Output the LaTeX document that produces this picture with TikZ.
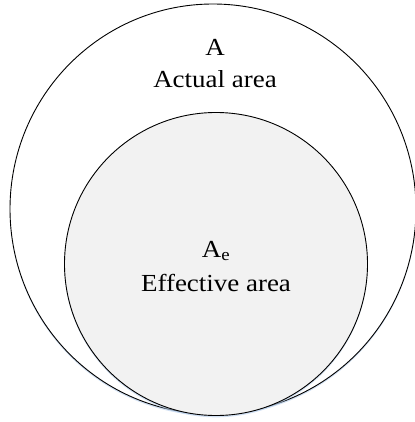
\documentclass[tikz,border=0pt]{standalone}
\usepackage{fontspec}
\setmainfont{Liberation Serif}[FakeStretch=1.1]
\usetikzlibrary{shadows,shapes.geometric}
\begin{document}
\begin{tikzpicture}[x=1pt,y=-1pt,
  ring/.style={draw=black,line width=0.9pt},
  glow/.style={drop shadow={shadow xshift=0pt,shadow yshift=-1.8pt,fill={rgb,255:red,180;green,205;blue,235},opacity=0.6}},
  lbl/.style={font=\fontsize{24.5}{28}\selectfont,inner sep=0pt,anchor=center}]
\useasboundingbox (0,0) rectangle (414,422);
\node[ring,glow,fill=white,ellipse,minimum width=406pt,minimum height=410pt,inner sep=0pt] (outer) at (213,209) {};
\node[ring,glow,circle,fill={rgb,255:red,242;green,242;blue,242},minimum size=303pt,inner sep=0pt] (inner) at (216,264) {};
\node[lbl] (a) at (215,47) {A};
\node[lbl] (aname) at (215,79) {Actual area};
\node[lbl] (ae) at (216,251) {A\textsubscript{e}};
\node[lbl] (aename) at (216,283) {Effective area};
\end{tikzpicture}
\end{document}
